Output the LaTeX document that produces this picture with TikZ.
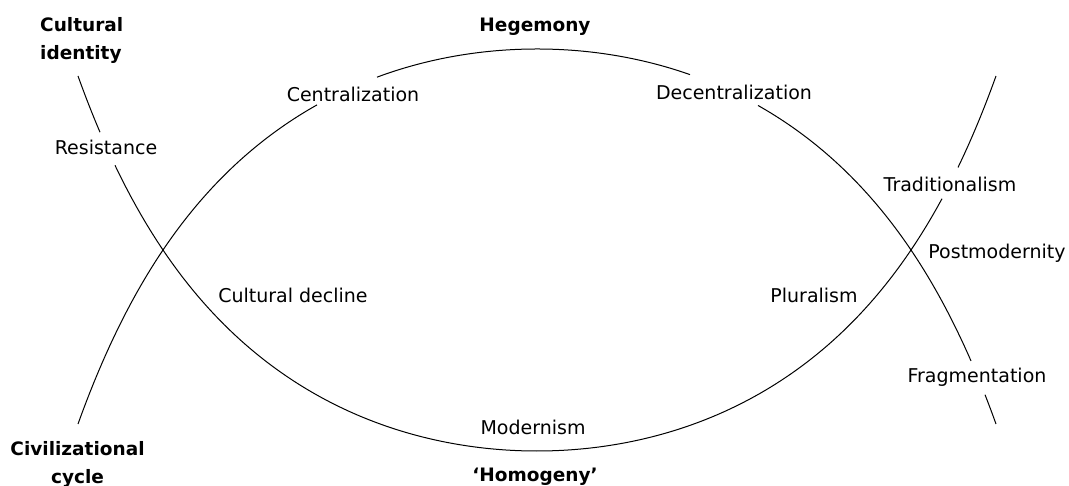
\documentclass[tikz,border=0pt]{standalone}
\usepackage{fontspec}
\setmainfont{DejaVu Sans}
\begin{document}
\begin{tikzpicture}[x=1pt,y=-1pt,
  declare function={pr(\u)=375*(0.5849*pow(abs(\u)/459,2)+0.272*pow(abs(\u)/459,4)+0.1431*pow(abs(\u)/459,8));},
  lbl/.style={inner sep=0pt, anchor=base, font=\fontsize{19}{28}\selectfont},
  blbl/.style={inner sep=0pt, anchor=base, font=\fontsize{18.5}{28}\selectfont\bfseries},
  curve/.style={line width=1pt, black, line join=round, samples=60, variable=\u}]
\useasboundingbox (0,0) rectangle (1069,486);

% U-shaped curve (top left -> Modernism -> top right), broken where labels sit
\draw[curve, domain=-459:-437] plot ({537+\u},{451-pr(\u)});
\draw[curve, domain=-422:405, samples=160] plot ({537+\u},{451-pr(\u)});
\draw[curve, domain=421:459] plot ({537+\u},{451-pr(\u)});

% inverted-U curve (bottom left -> Hegemony -> bottom right)
\draw[curve, domain=-459:-220] plot ({537+\u},{49+pr(\u)});
\draw[curve, domain=-160:153, samples=80] plot ({537+\u},{49+pr(\u)});
\draw[curve, domain=221:434] plot ({537+\u},{49+pr(\u)});
\draw[curve, domain=448:459] plot ({537+\u},{49+pr(\u)});

% labels
\node[blbl, anchor=base west, align=left] (cid) at (40,59.5) {Cultural\\identity};
\node[blbl, align=center] (civ) at (77.5,483) {Civilizational\\cycle};
\node[blbl] (heg) at (535,32) {Hegemony};
\node[blbl] (hom) at (535,481) {‘Homogeny’};
\node[lbl] (cen) at (353,102) {Centralization};
\node[lbl] (dec) at (734,100) {Decentralization};
\node[lbl] (res) at (106,155) {Resistance};
\node[lbl] (cdec) at (293,303) {Cultural decline};
\node[lbl] (tra) at (950,192) {Traditionalism};
\node[lbl] (pmo) at (997,259) {Postmodernity};
\node[lbl] (plu) at (814,303) {Pluralism};
\node[lbl] (fra) at (977,383) {Fragmentation};
\node[lbl] (mod) at (533,435) {Modernism};
\end{tikzpicture}
\end{document}
